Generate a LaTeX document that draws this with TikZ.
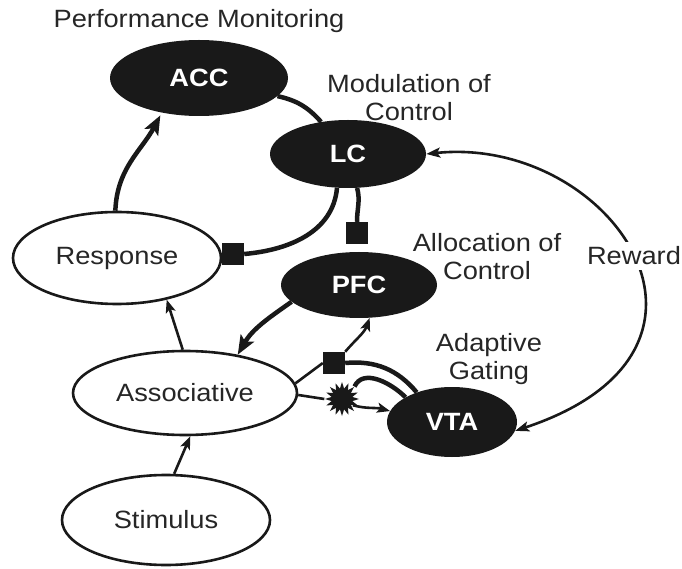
\documentclass[tikz,border=0pt]{standalone}
\usepackage{fontspec}
\setmainfont{Liberation Sans}[FakeStretch=1.09]
\usetikzlibrary{shapes.geometric,arrows.meta}
\begin{document}
\begin{tikzpicture}[x=1pt,y=1pt,
  lbl/.style={font=\fontsize{25}{28}\selectfont, align=center, text=black!85, inner sep=0},
  region/.style={ellipse, fill=black!90, inner sep=0, text=white,
    font=\bfseries\fontsize{25}{28}\selectfont},
  stage/.style={ellipse, draw=black!90, line width=2.6pt, fill=white, inner sep=0,
    text=black!85, font=\fontsize{25}{28}\selectfont},
  blocker/.style={rectangle, fill=black!90, minimum size=22pt, inner sep=0},
  burst/.style={star, star points=16, star point ratio=1.6, fill=black!90,
    minimum size=34pt, inner sep=0},
  fatline/.style={line width=4.5pt, draw=black!90},
  slimline/.style={line width=2.6pt, draw=black!90},
  bigtip/.style={-{Stealth[length=19pt,width=15pt,inset=4pt]}},
  smalltip/.style={-{Stealth[length=13pt,width=10pt,inset=3pt]}},
]
\useasboundingbox (0,0) rectangle (682,568);

% brain regions
\node[region, minimum width=178pt, minimum height=76pt] (ACC) at (199,490) {ACC};
\node[region, minimum width=156pt, minimum height=68pt] (LC)  at (348,414) {LC};
\node[region, minimum width=156pt, minimum height=66pt] (PFC) at (359,283) {PFC};
\node[region, minimum width=130pt, minimum height=70pt] (VTA) at (452,146) {VTA};

% processing stages
\node[stage, minimum width=208pt, minimum height=92pt] (Response)    at (117,310) {Response};
\node[stage, minimum width=224pt, minimum height=84pt] (Associative) at (185,175) {Associative};
\node[stage, minimum width=208pt, minimum height=90pt] (Stimulus)    at (166,48)  {Stimulus};

% functional labels
\node[lbl] (perf)  at (199,547) {Performance Monitoring};
\node[lbl] (modul) at (409,470) {Modulation of\\Control};
\node[lbl] (alloc) at (487,311) {Allocation of\\Control};
\node[lbl] (gate)  at (489,209) {Adaptive\\Gating};

% terminals
\node[blocker] (sqR) at (233,314) {};
\node[blocker] (sqP) at (357,335) {};
\node[blocker] (sqA) at (334,205) {};
\node[burst]   (pop) at (342,169) {};

% reward loop between LC and VTA
\draw[slimline, {Stealth[length=14pt,width=10pt,inset=3pt]}-{Stealth[length=14pt,width=10pt,inset=3pt]}]
  (LC.east) .. controls (610,433) and (760,218) .. (VTA.-8);
\node[lbl, fill=white, inner sep=5pt] (reward) at (634,312) {Reward};

% performance monitoring and modulation
\draw[fatline] (ACC.-13) to[bend left=18] (LC.130);
\draw[fatline] (LC.-108) to[out=-95, in=5] (sqR.east);
\draw[fatline] (LC.-75) to[out=-75, in=90] (sqP.north);
\draw[fatline, bigtip, shorten >=3pt] (Response.92) to[out=88, in=-118] (ACC.-137);

% control allocation
\draw[fatline, bigtip] (PFC.-166) to[out=-145, in=60] (Associative.36);
\draw[slimline, smalltip] (Associative.93) -- (Response.-40);
\draw[slimline, smalltip] (Stimulus.80) -- (Associative.-83);

% gating by VTA
\draw[slimline] (Associative.5) -- (sqA.west);
\draw[slimline, smalltip] (sqA.north east) to[out=50, in=-110] (PFC.-72);
\draw[fatline] (sqA.east) to[out=5, in=130] (VTA.140);
\draw[slimline] (Associative.-1) -- (pop.west);
\draw[fatline] (pop.north east) to[out=65, in=135] (VTA.152);
\draw[slimline, smalltip] (pop.-30) to[out=-15, in=165] (VTA.170);
\end{tikzpicture}
\end{document}
